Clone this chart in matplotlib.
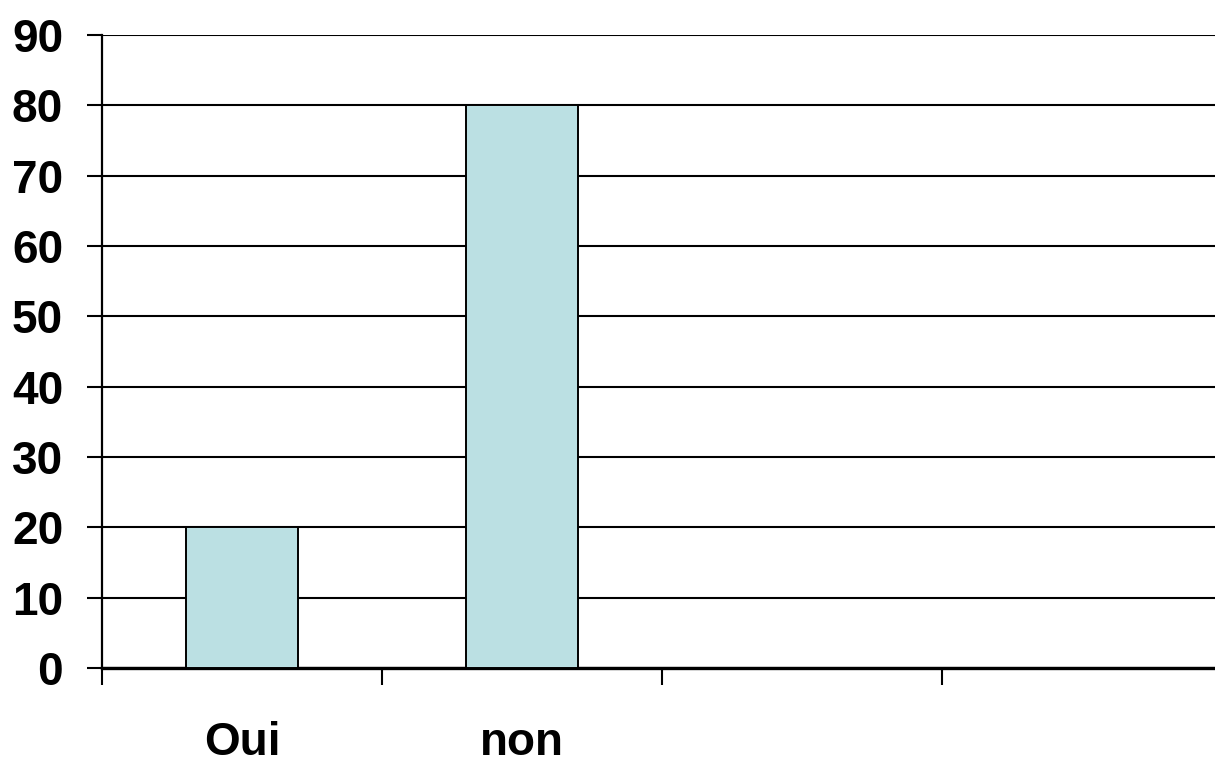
import numpy as np
import matplotlib.pyplot as plt

# Réponses au questionnaire
categories = ['Oui', 'non', '', '']
values = [20, 80, 0, 0]
yticks = [0, 10, 20, 30, 40, 50, 60, 70, 80, 90]

plt.rcParams['font.family'] = ['Liberation Sans', 'DejaVu Sans']

fig = plt.figure(figsize=(12.15, 7.63), dpi=100)
ax = fig.add_axes([0.084, 0.1245, 0.916, 0.8296])

x = np.arange(len(categories))
ax.bar(x[:2], values[:2], width=0.4, color='#BBE0E3', edgecolor='black',
       linewidth=1.4, zorder=3)

ax.set_xlim(-0.5, 3.475)
ax.set_ylim(0, 90)
ax.set_yticks(yticks)
ax.set_yticklabels([str(v) for v in yticks], fontsize=33, fontweight='bold')
ax.yaxis.grid(True, color='black', linewidth=1.5, zorder=0)
ax.set_axisbelow(True)

# libellés au centre, traits de graduation aux limites des catégories
ax.set_xticks(x)
ax.set_xticklabels(categories, fontsize=33, fontweight='bold')
ax.tick_params(axis='x', which='major', length=0, pad=38)
ax.set_xticks(np.arange(-0.5, 3.0, 1.0), minor=True)
ax.tick_params(axis='x', which='minor', length=12, width=1.5, direction='out')
ax.tick_params(axis='y', length=11, width=1.5, direction='out', pad=17)

for side in ['top', 'right']:
    ax.spines[side].set_visible(False)
ax.spines['left'].set_linewidth(1.6)
ax.spines['bottom'].set_linewidth(2.4)

plt.savefig('out.png', dpi=100)
